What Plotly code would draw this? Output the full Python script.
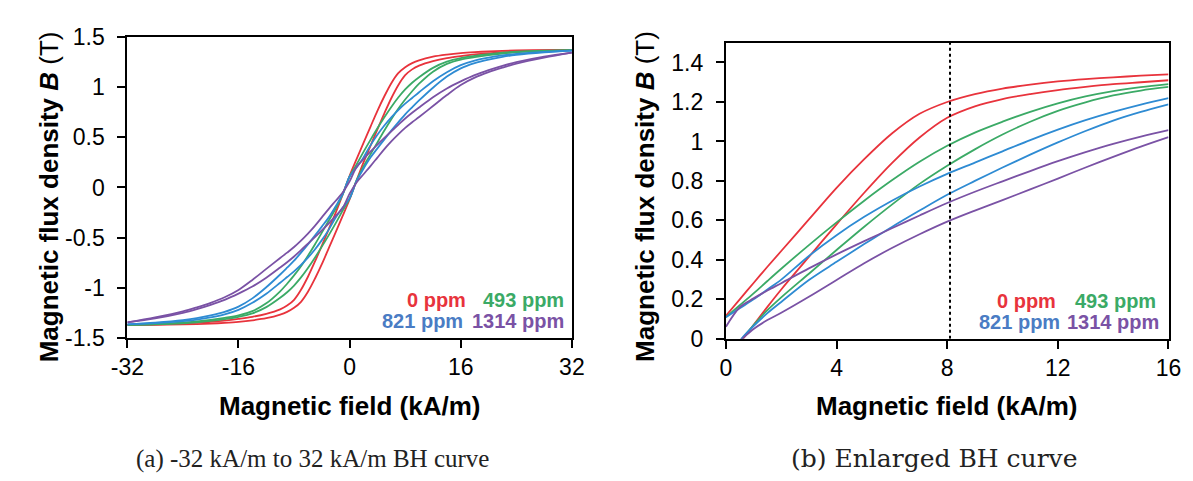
import plotly.graph_objects as go

# ---------------- data ----------------
series_names = ["0 ppm", "493 ppm", "821 ppm", "1314 ppm"]
series_colors = ["#E8333C", "#3BAA66", "#2E8BD3", "#7A52A5"]
label_colors = ["#E8333C", "#3BAA66", "#4A7CC4", "#7A52A5"]

# (b) enlarged view, first quadrant: upper (descending) and lower (ascending) branches
H_R = [0, 0.5, 1, 1.5, 2, 3, 4, 5, 6, 7, 8, 9, 10, 11, 12, 13, 14, 15, 16]
red_upper = [0.117, 0.20, 0.283, 0.365, 0.445, 0.605, 0.765, 0.91, 1.04, 1.14, 1.20, 1.24, 1.268, 1.288, 1.304, 1.316, 1.325, 1.333, 1.34]
red_lower = [-0.117, -0.022, 0.07, 0.162, 0.25, 0.415, 0.58, 0.74, 0.89, 1.02, 1.12, 1.178, 1.215, 1.24, 1.26, 1.276, 1.29, 1.30, 1.31]
green_upper = [0.11, 0.17, 0.23, 0.293, 0.355, 0.475, 0.59, 0.70, 0.803, 0.897, 0.978, 1.045, 1.10, 1.15, 1.193, 1.228, 1.255, 1.275, 1.29]
green_lower = [-0.11, -0.015, 0.07, 0.145, 0.21, 0.33, 0.45, 0.568, 0.68, 0.785, 0.877, 0.96, 1.035, 1.10, 1.155, 1.198, 1.233, 1.258, 1.276]
blue_upper = [0.109, 0.155, 0.2, 0.25, 0.30, 0.42, 0.525, 0.618, 0.70, 0.772, 0.836, 0.893, 0.95, 1.007, 1.06, 1.108, 1.15, 1.187, 1.22]
blue_lower = [-0.109, -0.01, 0.065, 0.13, 0.187, 0.298, 0.39, 0.48, 0.567, 0.65, 0.73, 0.80, 0.868, 0.933, 0.995, 1.053, 1.106, 1.15, 1.188]
purple_upper = [0.061, 0.16, 0.205, 0.245, 0.282, 0.357, 0.428, 0.495, 0.56, 0.625, 0.688, 0.745, 0.798, 0.85, 0.90, 0.946, 0.988, 1.025, 1.058]
purple_lower = [-0.061, -0.01, 0.05, 0.095, 0.132, 0.213, 0.298, 0.383, 0.46, 0.53, 0.594, 0.65, 0.703, 0.757, 0.812, 0.868, 0.922, 0.974, 1.022]

# (a) full loop, -32..32 kA/m: descending and ascending branches
H_L = [-32, -28, -24, -22, -20, -18, -16, -14, -12, -10, -9, -8, -7, -6, -5, -4, -3, -2, -1, 0,
       1, 2, 3, 4, 5, 6, 7, 8, 9, 10, 12, 14, 16, 18, 20, 22, 24, 28, 32]
red_desc = [-1.372, -1.366, -1.356, -1.348, -1.339, -1.327, -1.31, -1.29, -1.26, -1.215, -1.178, -1.12, -1.02, -0.89, -0.74, -0.58, -0.415, -0.25, -0.07,
            0.117,
            0.283, 0.445, 0.605, 0.765, 0.91, 1.04, 1.14, 1.20, 1.24, 1.268, 1.304, 1.325, 1.34, 1.35, 1.357, 1.362, 1.366, 1.37, 1.372]
red_asc = [-1.372, -1.37, -1.366, -1.362, -1.357, -1.35, -1.34, -1.325, -1.304, -1.268, -1.24, -1.20, -1.14, -1.04, -0.91, -0.765, -0.605, -0.445, -0.283,
           -0.117,
           0.07, 0.25, 0.415, 0.58, 0.74, 0.89, 1.02, 1.12, 1.178, 1.215, 1.26, 1.29, 1.31, 1.327, 1.339, 1.348, 1.356, 1.366, 1.372]
green_desc = [-1.37, -1.362, -1.348, -1.336, -1.32, -1.30, -1.276, -1.233, -1.155, -1.035, -0.96, -0.877, -0.785, -0.68, -0.568, -0.45, -0.33, -0.21, -0.07,
              0.11,
              0.23, 0.355, 0.475, 0.59, 0.70, 0.803, 0.897, 0.978, 1.045, 1.10, 1.193, 1.255, 1.29, 1.312, 1.33, 1.344, 1.354, 1.365, 1.37]
green_asc = [-1.37, -1.365, -1.354, -1.344, -1.33, -1.312, -1.29, -1.255, -1.193, -1.10, -1.045, -0.978, -0.897, -0.803, -0.70, -0.59, -0.475, -0.355, -0.23,
             -0.11,
             0.07, 0.21, 0.33, 0.45, 0.568, 0.68, 0.785, 0.877, 0.96, 1.035, 1.155, 1.233, 1.276, 1.30, 1.32, 1.336, 1.348, 1.362, 1.37]
blue_desc = [-1.365, -1.347, -1.322, -1.303, -1.275, -1.24, -1.188, -1.106, -0.995, -0.868, -0.80, -0.73, -0.65, -0.567, -0.48, -0.39, -0.298, -0.187, -0.065,
             0.109,
             0.2, 0.30, 0.42, 0.525, 0.618, 0.70, 0.772, 0.836, 0.893, 0.95, 1.06, 1.15, 1.22, 1.265, 1.295, 1.317, 1.333, 1.353, 1.365]
blue_asc = [-1.365, -1.353, -1.333, -1.317, -1.295, -1.265, -1.22, -1.15, -1.06, -0.95, -0.893, -0.836, -0.772, -0.70, -0.618, -0.525, -0.42, -0.30, -0.2,
            -0.109,
            0.065, 0.187, 0.298, 0.39, 0.48, 0.567, 0.65, 0.73, 0.80, 0.868, 0.995, 1.106, 1.188, 1.24, 1.275, 1.303, 1.322, 1.347, 1.365]
purple_desc = [-1.345, -1.295, -1.235, -1.195, -1.15, -1.095, -1.022, -0.922, -0.812, -0.703, -0.65, -0.594, -0.53, -0.46, -0.383, -0.298, -0.213, -0.132, -0.05,
               0.061,
               0.205, 0.282, 0.357, 0.428, 0.495, 0.56, 0.625, 0.688, 0.745, 0.798, 0.90, 0.988, 1.058, 1.12, 1.17, 1.213, 1.25, 1.305, 1.345]
purple_asc = [-1.345, -1.305, -1.25, -1.213, -1.17, -1.12, -1.058, -0.988, -0.90, -0.798, -0.745, -0.688, -0.625, -0.56, -0.495, -0.428, -0.357, -0.282, -0.205,
              -0.061,
              0.05, 0.132, 0.213, 0.298, 0.383, 0.46, 0.53, 0.594, 0.65, 0.703, 0.812, 0.922, 1.022, 1.095, 1.15, 1.195, 1.235, 1.295, 1.345]

left_x_ticks = [-32, -16, 0, 16, 32]
left_x_labels = ["-32", "-16", "0", "16", "32"]
left_y_ticks = [-1.5, -1, -0.5, 0, 0.5, 1, 1.5]
left_y_labels = ["-1.5", "-1", "-0.5", "0", "0.5", "1", "1.5"]
right_x_ticks = [0, 4, 8, 12, 16]
right_y_ticks = [0, 0.2, 0.4, 0.6, 0.8, 1.0, 1.2, 1.4]
right_y_labels = ["0", "0.2", "0.4", "0.6", "0.8", "1", "1.2", "1.4"]
marker_H = 8.1  # dotted reference line in (b)

x_title = "Magnetic field (kA/m)"
y_title = "<b>Magnetic flux density <i>B</i></b> (T)"
caption_a = "(a) -32 kA/m to 32 kA/m BH curve"
caption_b = "(b) Enlarged BH curve"

# ---------------- figure ----------------
W, Hpx = 1193, 481
def px(x):
    return x / W
def py(y):
    return 1 - y / Hpx

fig = go.Figure()
left_pairs = [(red_desc, red_asc), (green_desc, green_asc), (blue_desc, blue_asc), (purple_desc, purple_asc)]
right_pairs = [(red_upper, red_lower), (green_upper, green_lower), (blue_upper, blue_lower), (purple_upper, purple_lower)]

for (d, a), c, n in zip(left_pairs, series_colors, series_names):
    for ys in (d, a):
        fig.add_trace(go.Scatter(x=H_L, y=ys, mode="lines", name=n, showlegend=False,
                                 line=dict(color=c, width=1.8, shape="spline", smoothing=0.9),
                                 xaxis="x", yaxis="y"))
for (u, l), c, n in zip(right_pairs, series_colors, series_names):
    for ys in (u, l):
        fig.add_trace(go.Scatter(x=H_R, y=ys, mode="lines", name=n, showlegend=False,
                                 line=dict(color=c, width=1.8, shape="spline", smoothing=0.9),
                                 xaxis="x2", yaxis="y2"))

fig.add_trace(go.Scatter(x=[marker_H, marker_H], y=[0, 1.5], mode="lines", showlegend=False,
                         line=dict(color="black", width=2, dash="dot"), xaxis="x2", yaxis="y2"))

tickfont = dict(family="Liberation Sans, Arial, sans-serif", size=23, color="black")
axis_common = dict(showgrid=False, zeroline=False, showline=True, linecolor="black", linewidth=2,
                   mirror=True, ticks="outside", ticklen=8, tickwidth=1.5, tickcolor="black",
                   tickfont=tickfont)

fig.update_layout(
    width=W, height=Hpx, margin=dict(l=0, r=0, t=0, b=0),
    paper_bgcolor="white", plot_bgcolor="white",
    xaxis=dict(domain=[px(105), px(561)], range=[-32, 32], tickvals=left_x_ticks, ticktext=left_x_labels,
               anchor="y", ticklabelstandoff=0, **axis_common),
    yaxis=dict(domain=[py(335), py(17)], range=[-1.5, 1.5], tickvals=left_y_ticks, ticktext=left_y_labels,
               anchor="x", ticklabelstandoff=8, **axis_common),
    xaxis2=dict(domain=[px(719), px(1173)], range=[0, 16], tickvals=right_x_ticks,
                anchor="y2", ticklabelstandoff=0, **axis_common),
    yaxis2=dict(domain=[py(336), py(23)], range=[0, 1.5], tickvals=right_y_ticks, ticktext=right_y_labels,
                anchor="x2", ticklabelstandoff=8, **axis_common),
)

sans_b = "Liberation Sans, Arial, sans-serif"
anns = []
for cx in (333, 945):
    anns.append(dict(text="<b>" + x_title + "</b>", x=px(cx), y=py(407), xref="paper", yref="paper",
                     showarrow=False, xanchor="center", yanchor="middle",
                     font=dict(family=sans_b, size=26, color="black")))
for cx in (25, 636):
    anns.append(dict(text=y_title, x=px(cx), y=py(186), xref="paper", yref="paper", textangle=-90,
                     showarrow=False, xanchor="center", yanchor="middle",
                     font=dict(family=sans_b, size=26, color="black")))
anns.append(dict(text=caption_a, x=px(295), y=py(463), xref="paper", yref="paper", showarrow=False,
                 xanchor="center", yanchor="middle",
                 font=dict(family="Liberation Serif, Times New Roman, serif", size=25, color="#222")))
anns.append(dict(text=caption_b, x=px(933), y=py(463), xref="paper", yref="paper", showarrow=False,
                 xanchor="center", yanchor="middle",
                 font=dict(family="DejaVu Serif, serif", size=25, color="#222")))
label_pos = {
    "left": [(454, 295), (555, 295), (451, 317), (555, 317)],
    "right": [(1060, 296), (1162, 296), (1064, 318), (1165, 318)],
}
for side in ("left", "right"):
    for (xr, yc), n, c in zip(label_pos[side], series_names, label_colors):
        anns.append(dict(text="<b>" + n + "</b>", x=px(xr), y=py(yc), xref="paper", yref="paper",
                         showarrow=False, xanchor="right", yanchor="middle",
                         font=dict(family=sans_b, size=20, color=c)))
fig.update_layout(annotations=anns)

fig.write_html("out.html")
